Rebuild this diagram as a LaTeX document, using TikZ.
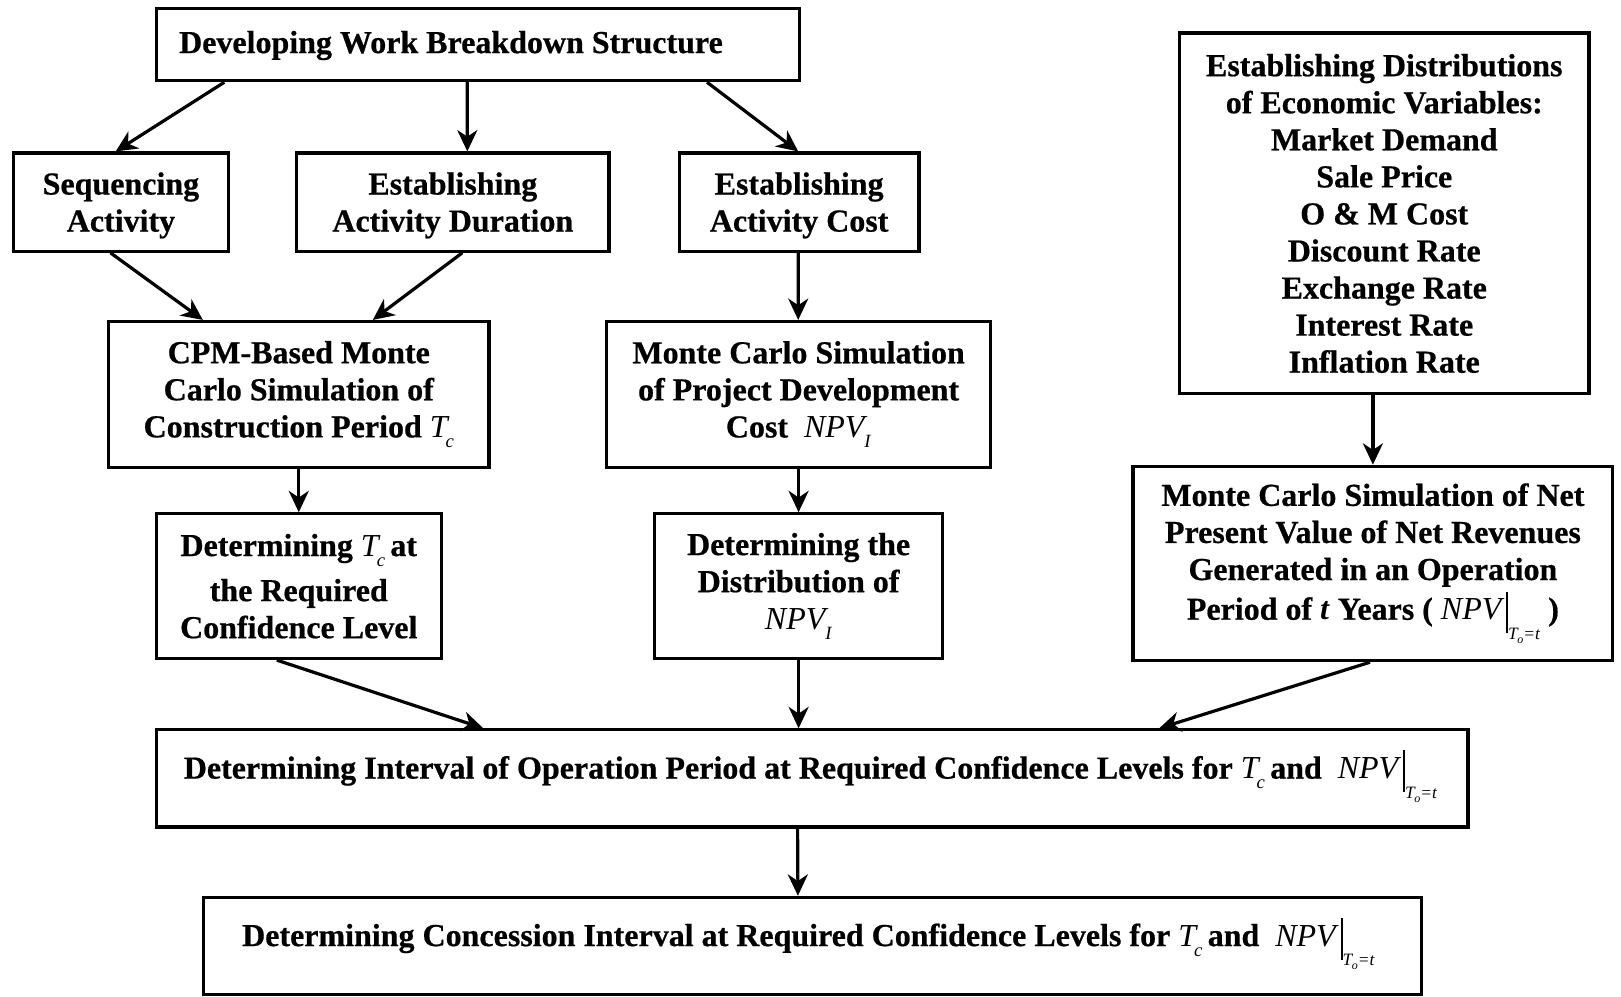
\documentclass[tikz,border=0pt]{standalone}
\usepackage{fontspec}
\setmainfont{Liberation Serif}[BoldFeatures={FakeBold=0.6}]
\usetikzlibrary{arrows.meta,calc}
\newcommand\subx[1]{\raisebox{-0.32em}{\fontsize{14}{14}\selectfont\textit{\mdseries #1}}}
\newcommand\Tc{\textit{\mdseries T}\kern-0.12em\subx{c}}
\newcommand\NPVI{\textit{\mdseries NPV}\kern-0.1em\subx{I}}
\newcommand\NPVT{\textit{\mdseries NPV}\hspace{1.5pt}\rule[-0.42em]{1.3pt}{1.3em}\raisebox{-0.62em}{\fontsize{13}{13}\selectfont\textit{\mdseries T}\kern-0.08em\raisebox{-0.22em}{\fontsize{9}{9}\selectfont\textit{\mdseries o}}\textit{\mdseries =t}}}
\tikzset{
  box/.style={draw, line width=2.4pt, inner sep=0pt, align=center,
    font=\fontsize{24}{27.8}\selectfont\bfseries},
  wh/.style 2 args={minimum width=#1*0.7754pt, minimum height=#2*0.7754pt},
  txt/.style={inner sep=0pt, align=center, font=\fontsize{24}{27.8}\selectfont\bfseries},
  arr/.style={line width=2.4pt, -{Stealth[length=16pt,width=15pt,inset=5pt]}}
}
\begin{document}
\begin{tikzpicture}[x=0.7754pt,y=-0.7754pt]
\useasboundingbox (0,0) rectangle (1568,964);
% boxes
\node[box, wh={622}{70}] (wbs) at (462,43) {};
\node[txt, anchor=west] (wbsT) at (173,44) {Developing Work Breakdown Structure};
\node[box, wh={208}{95}] (seq) at (117,195.5) {\rule{0pt}{0.9em}Sequencing\\Activity};
\node[box, wh={302}{95}] (dur) at (438,195.5) {\rule{0pt}{0.9em}Establishing\\Activity Duration};
\node[box, wh={232}{95}] (cost) at (773,195.5) {\rule{0pt}{0.9em}Establishing\\Activity Cost};
\node[box, wh={396}{349}] (econ) at (1339,206.5) {Establishing Distributions\\of Economic Variables:\\Market Demand\\Sale Price\\O \& M Cost\\Discount Rate\\Exchange Rate\\Interest Rate\\Inflation Rate};
\node[box, wh={368}{141}] (cpm) at (289,381.5) {CPM-Based Monte\\Carlo Simulation of\\Construction Period \Tc};
\node[box, wh={371}{141}] (mc) at (772.5,381.5) {Monte Carlo Simulation\\of Project Development\\Cost \ \NPVI};
\node[box, wh={464}{188}] (mcnpv) at (1328,545) {Monte Carlo Simulation of Net\\Present Value of Net Revenues\\Generated in an Operation\\[2pt]Period of \textit{t} Years ( \NPVT\ )};
\node[box, wh={276}{140}] (dettc) at (289,567) {Determining \Tc\,at\\[6pt]the Required\\Confidence Level};
\node[box, wh={279}{140}] (detdist) at (772.5,567) {Determining the\\Distribution of\\\NPVI};
\node[box, wh={1269}{94}] (int) at (785.5,753) {};
\node[txt] (intT) at (784,751) {Determining Interval of Operation Period at Required Confidence Levels for \Tc\,and \ \NPVT};
\node[box, wh={1178}{94}] (conc) at (786,915) {};
\node[txt] (concT) at (782,913) {Determining Concession Interval at Required Confidence Levels for \Tc\,and \ \NPVT};
% arrows
\draw[arr] ($(wbs.south west)!0.108!(wbs.south east)$) -- ($(seq.north west)!0.476!(seq.north east)$);
\draw[arr] ($(wbs.south west)!0.484!(wbs.south east)$) -- ($(dur.north west)!0.546!(dur.north east)$);
\draw[arr] ($(wbs.south west)!0.855!(wbs.south east)$) -- ($(cost.north west)!0.496!(cost.north east)$);
\draw[arr] ($(seq.south west)!0.452!(seq.south east)$) -- ($(cpm.north west)!0.25!(cpm.north east)$);
\draw[arr] ($(dur.south west)!0.53!(dur.south east)$) -- ($(cpm.north west)!0.693!(cpm.north east)$);
\draw[arr] ($(cost.south west)!0.496!(cost.south east)$) -- ($(mc.north west)!0.499!(mc.north east)$);
\draw[arr] (cpm.south) -- (dettc.north);
\draw[arr] (mc.south) -- (detdist.north);
\draw[arr] (econ.south -| mcnpv.north) -- (mcnpv.north);
\draw[arr] ($(dettc.south west)!0.424!(dettc.south east)$) -- ($(int.north west)!0.25!(int.north east)$);
\draw[arr] (detdist.south) -- (detdist.south |- int.north);
\draw[arr] ($(mcnpv.south west)!0.494!(mcnpv.south east)$) -- ($(int.north west)!0.764!(int.north east)$);
\draw[arr] ($(int.south west)!0.489!(int.south east)$) -- ($(conc.north west)!0.488!(conc.north east)$);
\end{tikzpicture}
\end{document}
